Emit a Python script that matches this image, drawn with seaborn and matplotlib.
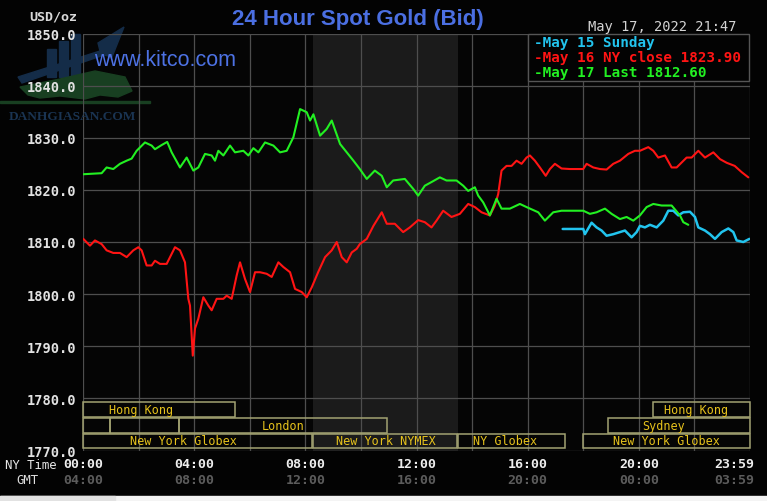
import matplotlib
matplotlib.use("Agg")
import matplotlib.pyplot as plt
import matplotlib.transforms as mtransforms
from matplotlib.patches import Rectangle, Polygon
import numpy as np
import pandas as pd
import seaborn as sns

# ---------------- data ----------------
red_hours = [0.01, 0.25, 0.43, 0.67, 0.85, 1.09, 1.33, 1.57, 1.81, 1.99, 2.11, 2.29, 2.47, 2.59, 2.77, 3.01,
             3.31, 3.49, 3.67, 3.79, 3.85, 3.95, 4.03, 4.15, 4.33, 4.51, 4.63, 4.81, 5.05, 5.17, 5.35, 5.53,
             5.65, 5.83, 6.01, 6.19, 6.37, 6.61, 6.79, 7.03, 7.21, 7.45, 7.63, 7.87, 8.05, 8.23, 8.46, 8.71,
             8.95, 9.13, 9.31, 9.49, 9.67, 9.85, 9.96, 10.21, 10.45, 10.75, 10.93, 11.22, 11.52, 11.76, 12.06,
             12.30, 12.54, 12.72, 12.96, 13.26, 13.56, 13.86, 14.10, 14.34, 14.64, 14.82, 14.94, 15.06, 15.24,
             15.42, 15.60, 15.78, 15.96, 16.08, 16.26, 16.44, 16.65, 16.80, 16.98, 17.22, 17.52, 18.00, 18.12,
             18.36, 18.60, 18.84, 19.08, 19.32, 19.62, 19.86, 20.04, 20.34, 20.52, 20.70, 20.94, 21.18, 21.36,
             21.72, 21.90, 22.14, 22.38, 22.68, 22.92, 23.16, 23.45, 23.70, 23.94]
red_prices = [1810.6, 1809.3, 1810.3, 1809.6, 1808.4, 1807.9, 1807.9, 1807.1, 1808.4, 1809.0, 1808.4, 1805.5,
              1805.5, 1806.4, 1805.8, 1805.8, 1809.0, 1808.4, 1806.1, 1799.1, 1797.8, 1788.2, 1793.4, 1795.3,
              1799.4, 1797.8, 1796.9, 1799.1, 1799.1, 1799.7, 1799.1, 1803.6, 1806.1, 1802.9, 1800.4, 1804.2,
              1804.2, 1803.9, 1803.3, 1806.1, 1805.2, 1804.2, 1801.0, 1800.4, 1799.4, 1801.3, 1804.2, 1807.1,
              1808.4, 1810.0, 1807.1, 1806.1, 1808.0, 1808.7, 1809.6, 1810.6, 1813.1, 1815.7, 1813.5, 1813.5,
              1811.9, 1812.8, 1814.2, 1813.8, 1812.8, 1814.1, 1816.0, 1814.8, 1815.4, 1817.3, 1816.7, 1815.7,
              1815.1, 1817.0, 1819.2, 1823.7, 1824.6, 1824.6, 1825.6, 1825.0, 1826.2, 1826.6, 1825.6, 1824.3,
              1822.7, 1824.0, 1825.0, 1824.1, 1824.0, 1824.0, 1825.0, 1824.3, 1824.0, 1823.9, 1825.0, 1825.6,
              1826.9, 1827.5, 1827.5, 1828.2, 1827.5, 1826.2, 1826.6, 1824.3, 1824.3, 1826.2, 1826.2, 1827.5,
              1826.2, 1827.2, 1825.9, 1825.2, 1824.6, 1823.4, 1822.4]

green_hours = [0.01, 0.67, 0.85, 1.09, 1.33, 1.57, 1.75, 1.93, 2.23, 2.47, 2.59, 2.83, 3.03, 3.19, 3.49, 3.73,
               3.97, 4.15, 4.39, 4.63, 4.75, 4.87, 5.05, 5.29, 5.47, 5.77, 5.95, 6.13, 6.31, 6.55, 6.85, 7.09,
               7.33, 7.57, 7.81, 8.05, 8.17, 8.29, 8.53, 8.77, 8.95, 9.25, 9.49, 9.73, 9.96, 10.21, 10.50, 10.75,
               10.93, 11.16, 11.58, 11.88, 12.06, 12.30, 12.54, 12.84, 13.08, 13.44, 13.68, 13.86, 14.10, 14.22,
               14.40, 14.64, 14.88, 15.06, 15.36, 15.72, 15.96, 16.38, 16.62, 16.92, 17.22, 18.00, 18.24, 18.48,
               18.78, 19.02, 19.32, 19.56, 19.80, 20.04, 20.28, 20.52, 20.82, 21.18, 21.48, 21.60, 21.78]
green_prices = [1823.0, 1823.2, 1824.3, 1824.0, 1825.0, 1825.6, 1826.0, 1827.5, 1829.1, 1828.5, 1827.8, 1828.6,
                1829.2, 1827.2, 1824.3, 1826.2, 1823.7, 1824.3, 1826.9, 1826.6, 1825.6, 1827.5, 1826.6, 1828.5,
                1827.2, 1827.5, 1826.6, 1828.0, 1827.2, 1829.1, 1828.5, 1827.2, 1827.5, 1830.1, 1835.5, 1834.9,
                1833.3, 1834.5, 1830.4, 1831.7, 1833.3, 1828.8, 1827.2, 1825.6, 1824.0, 1822.1, 1823.7, 1822.7,
                1820.5, 1821.8, 1822.1, 1820.2, 1818.9, 1820.8, 1821.5, 1822.4, 1821.8, 1821.8, 1820.8, 1819.8,
                1820.5, 1818.9, 1817.6, 1815.1, 1818.3, 1816.4, 1816.4, 1817.3, 1816.7, 1815.7, 1814.1, 1815.7,
                1816.0, 1816.0, 1815.4, 1815.7, 1816.4, 1815.4, 1814.4, 1814.8, 1814.1, 1815.1, 1816.7, 1817.3,
                1817.0, 1817.0, 1815.1, 1813.8, 1813.3]

cyan_hours = [17.26, 18.00, 18.06, 18.30, 18.48, 18.66, 18.84, 19.08, 19.32, 19.50, 19.74, 19.92, 20.04, 20.22,
              20.40, 20.64, 20.88, 21.06, 21.24, 21.42, 21.60, 21.84, 22.02, 22.14, 22.38, 22.56, 22.74, 22.98,
              23.22, 23.40, 23.52, 23.76, 23.98]
cyan_prices = [1812.5, 1812.5, 1811.5, 1813.7, 1812.8, 1812.2, 1811.2, 1811.5, 1811.9, 1812.2, 1810.9, 1811.9,
               1813.1, 1812.8, 1813.3, 1812.8, 1814.1, 1816.0, 1816.0, 1815.1, 1815.7, 1815.8, 1814.8, 1812.8,
               1812.2, 1811.5, 1810.6, 1811.9, 1812.6, 1811.9, 1810.3, 1810.0, 1810.6]

series_names = ["May 15 Sunday", "May 16 NY close 1823.90", "May 17 Last 1812.60"]

y_ticks = [1770, 1780, 1790, 1800, 1810, 1820, 1830, 1840, 1850]
ny_time_labels = ["00:00", "04:00", "08:00", "12:00", "16:00", "20:00", "23:59"]
gmt_labels = ["04:00", "08:00", "12:00", "16:00", "20:00", "00:00", "03:59"]
time_label_hours = [0, 4, 8, 12, 16, 20, 23.45]

session_labels = ["Hong Kong", "", "", "London", "New York Globex", "New York NYMEX", "NY Globex",
                  "New York Globex", "Sydney", "Hong Kong"]
session_start = [0.0, 0.0, 0.97, 3.45, 0.0, 8.27, 13.5, 18.0, 18.9, 20.5]
session_end = [5.47, 0.97, 3.45, 10.93, 8.25, 13.46, 17.35, 24.0, 24.0, 24.0]
session_row = [0, 1, 1, 1, 2, 2, 2, 2, 1, 0]
session_label_hour = [2.1, 0, 0, 7.2, 3.63, 10.9, 15.2, 21.0, 20.9, 22.05]
nymex_open, nymex_close = 8.27, 13.5

df = pd.concat([
    pd.DataFrame({"hour": cyan_hours, "price": cyan_prices, "day": series_names[0]}),
    pd.DataFrame({"hour": red_hours, "price": red_prices, "day": series_names[1]}),
    pd.DataFrame({"hour": green_hours, "price": green_prices, "day": series_names[2]}),
], ignore_index=True)

# ---------------- style ----------------
W, H = 767, 502
sns.set_style("dark")
plt.rcParams["font.family"] = ["DejaVu Sans"]
mono = "DejaVu Sans Mono"
colors = {series_names[0]: "#22c4ee", series_names[1]: "#ff1414", series_names[2]: "#22f022"}

fig = plt.figure(figsize=(W / 100, H / 100), dpi=100, facecolor="#030303")
ax = fig.add_axes([83 / W, 50.5 / H, 667 / W, 417 / H])
ax.set_facecolor("#050505")

px = mtransforms.Affine2D().scale(1 / W, -1 / H).translate(0, 1) + fig.transFigure

# watermark logo (decoration)
navy = "#142c48"
dgreen = "#183f21"
for (x0, y0, w, h) in [(47, 50, 9, 28), (59, 42, 9, 36), (71, 35, 9, 43)]:
    ax.add_patch(Rectangle((x0, y0), w, h, transform=px, color=navy, zorder=0.2, clip_on=False))
ax.add_patch(Polygon([(18, 78), (100, 52), (98, 44), (124, 28), (112, 58), (104, 56), (22, 84)],
                     transform=px, color=navy, zorder=0.2, clip_on=False))
ax.add_patch(Polygon([(20, 88), (60, 80), (95, 72), (125, 78), (132, 92), (118, 98), (100, 96),
                      (85, 100), (60, 97), (40, 99), (28, 96)],
                     transform=px, color=dgreen, zorder=0.2, clip_on=False))
ax.add_patch(Rectangle((0, 102), 150, 1.5, transform=px, color=dgreen, zorder=0.2, clip_on=False))
fig.text(72 / W, 1 - 117 / H, "DANHGIASAN.COM", color="#1a3452", fontsize=9.6, fontweight="bold",
         family="Liberation Serif", ha="center", va="center", zorder=0.5)

# NYMEX shading
ax.axvspan(nymex_open, nymex_close, color="#1b1b1b", zorder=0.1, lw=0)

sns.lineplot(data=df, x="hour", y="price", hue="day", palette=colors, estimator=None, sort=False,
             legend=False, ax=ax, linewidth=1.5, zorder=3)
for ln in ax.get_lines():
    if ln.get_color().lower() == "#22c4ee":
        ln.set_linewidth(1.8)

ax.set_xlim(0, 24)
ax.set_ylim(1770, 1850)
ax.set_xticks(np.arange(0, 25, 2))
ax.set_xticklabels([])
ax.set_yticks(y_ticks)
ax.set_yticklabels([f"{v:.1f}" for v in y_ticks], family=mono, fontweight="bold", fontsize=9.8,
                   color="#e2e2e2")
ax.tick_params(axis="both", length=0, pad=5)
ax.set_xlabel("")
ax.set_ylabel("")
ax.grid(True, color="#4e4e4e", linewidth=0.9)
ax.set_axisbelow(True)
for s in ax.spines.values():
    s.set_visible(False)

# market sessions
row_top = [1779.35, 1776.3, 1773.25]
row_h = 2.85
box_col = "#a2a272"
txt_col = "#e6c21c"
for lab, s0, s1, r, lh in zip(session_labels, session_start, session_end, session_row, session_label_hour):
    ax.add_patch(Rectangle((s0, row_top[r] - row_h), s1 - s0, row_h, fill=False, edgecolor=box_col,
                           lw=1.1, zorder=2, clip_on=False))
    if lab:
        ax.text(lh, row_top[r] - row_h / 2, lab, family=mono, fontsize=8.5, color=txt_col,
                ha="center", va="center", zorder=4)

# legend box
ax.add_patch(Rectangle((528, 35), 221, 47, transform=px, facecolor="#030303", edgecolor="#555555",
                       lw=1.0, zorder=5, clip_on=False))
for i, (name, c) in enumerate(zip(series_names, colors.values())):
    fig.text(534 / W, 1 - (43 + 15 * i) / H, "-" + name, color=c, family=mono, fontweight="bold",
             fontsize=10.3, ha="left", va="center", zorder=6)

# titles & texts
fig.text(358 / W, 1 - 20 / H, "24 Hour Spot Gold (Bid)", color="#4b6fe2", fontsize=16,
         fontweight="bold", family="Liberation Sans", ha="center", va="center")
fig.text(737 / W, 1 - 27 / H, "May 17, 2022 21:47", color="#d4d4d4", family=mono, fontsize=9.9,
         ha="right", va="center")
fig.text(77 / W, 1 - 17 / H, "USD/oz", color="#d8d8d8", family=mono, fontweight="bold", fontsize=9.6,
         ha="right", va="center")
fig.text(165 / W, 1 - 61 / H, "www.kitco.com", color="#4d72e4", fontsize=15.5, family="Liberation Sans",
         ha="center", va="center", zorder=4)

# time axis labels
fig.text(31 / W, 1 - 466 / H, "NY Time", color="#e8e8e8", family=mono, fontsize=8.8, ha="center", va="center")
fig.text(27 / W, 1 - 481 / H, "GMT", color="#e0e0e0", family=mono, fontsize=8.8, ha="center", va="center")
for h, t1, t2 in zip(time_label_hours, ny_time_labels, gmt_labels):
    xf = (83 + h * 667 / 24) / W
    fig.text(xf, 1 - 465 / H, t1, color="#eeeeee", family=mono, fontweight="bold", fontsize=9.5,
             ha="center", va="center")
    fig.text(xf, 1 - 481 / H, t2, color="#5c5c5c", family=mono, fontweight="bold", fontsize=9.5,
             ha="center", va="center")

# bottom page strip
fig.patches.append(Rectangle((0, 0), 1, 5.5 / H, transform=fig.transFigure, color="#f4f4f4", zorder=0))
fig.patches.append(Rectangle((0, 0), 115 / W, 5.5 / H, transform=fig.transFigure, color="#e2e2e2", zorder=0))

fig.savefig("out.png", dpi=100, facecolor=fig.get_facecolor())
